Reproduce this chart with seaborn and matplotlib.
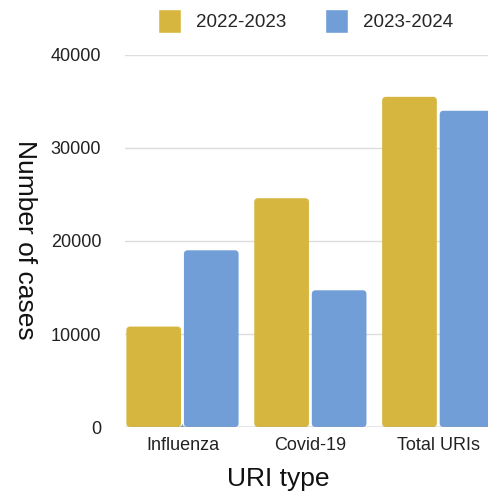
import pandas as pd
import matplotlib
matplotlib.use('Agg')
import matplotlib.pyplot as plt
from matplotlib.patches import Patch, FancyBboxPatch
import seaborn as sns

#data
uri_types = ['Influenza', 'Covid-19', 'Total URIs']
season_2223 = [10800, 24600, 35500]
season_2324 = [19000, 14700, 34000]
seasons = ['2022-2023', '2023-2024']
colors = ['#D6B63E', '#729ED8']

df = pd.DataFrame({
    'URI type': uri_types * 2,
    'cases': season_2223 + season_2324,
    'season': [seasons[0]] * 3 + [seasons[1]] * 3,
})

sns.set_style('white')
plt.rcParams['font.family'] = ['Liberation Sans', 'DejaVu Sans']

fig = plt.figure(figsize = (4.88, 4.94), dpi = 100)
ax = fig.add_axes([0.256, 0.1356, 0.76, 0.7531])

sns.barplot(data = df, x = 'URI type', y = 'cases', hue = 'season',
            palette = colors, width = 0.9, gap = 0.05, dodge = True,
            saturation = 1, ax = ax, zorder = 3)
ax.get_legend().remove()

ax.set_xlim(-0.45, 2.45)
ax.set_ylim(0, 40000)

#swap bars for slightly rounded ones
for p in list(ax.patches):
    x, y = p.get_x(), p.get_y()
    w, h = p.get_width(), p.get_height()
    fb = FancyBboxPatch((x, y), w, h, boxstyle = 'round,pad=0,rounding_size=0.03',
                        mutation_aspect = 40000 / 2.9 * 0.76 * 4.88 / (0.7531 * 4.94),
                        facecolor = p.get_facecolor(), edgecolor = 'none', zorder = 3)
    p.remove()
    ax.add_patch(fb)

ax.set_yticks([0, 10000, 20000, 30000, 40000])
ax.grid(axis = 'y', color = '#dddddd', lw = 1, zorder = 0)
ax.axhline(0, color = '#999999', lw = 1, zorder = 4)
for s in ax.spines.values():
    s.set_visible(False)
ax.tick_params(axis = 'y', length = 0, pad = 17, labelsize = 13, labelcolor = '#222222')
ax.tick_params(axis = 'x', length = 0, pad = 7, labelsize = 13, labelcolor = '#222222')

ax.set_xlabel('')
ax.set_ylabel('')
fig.text(0.57, 0.016, 'URI type', fontsize = 19, ha = 'center', va = 'baseline',
         color = '#111111')
fig.text(0.051, 0.515, 'Number of cases', rotation = -90, fontsize = 19,
         ha = 'center', va = 'center', color = '#111111')

handles = [Patch(facecolor = c, label = l) for c, l in zip(colors, seasons)]
fig.legend(handles = handles, loc = 'center', bbox_to_anchor = (0.626, 0.958),
           ncol = 2, frameon = False, fontsize = 13.5, handlelength = 1.2,
           handleheight = 1.6, handletextpad = 0.8, columnspacing = 2.1)

fig.savefig('out.png', dpi = 100)
